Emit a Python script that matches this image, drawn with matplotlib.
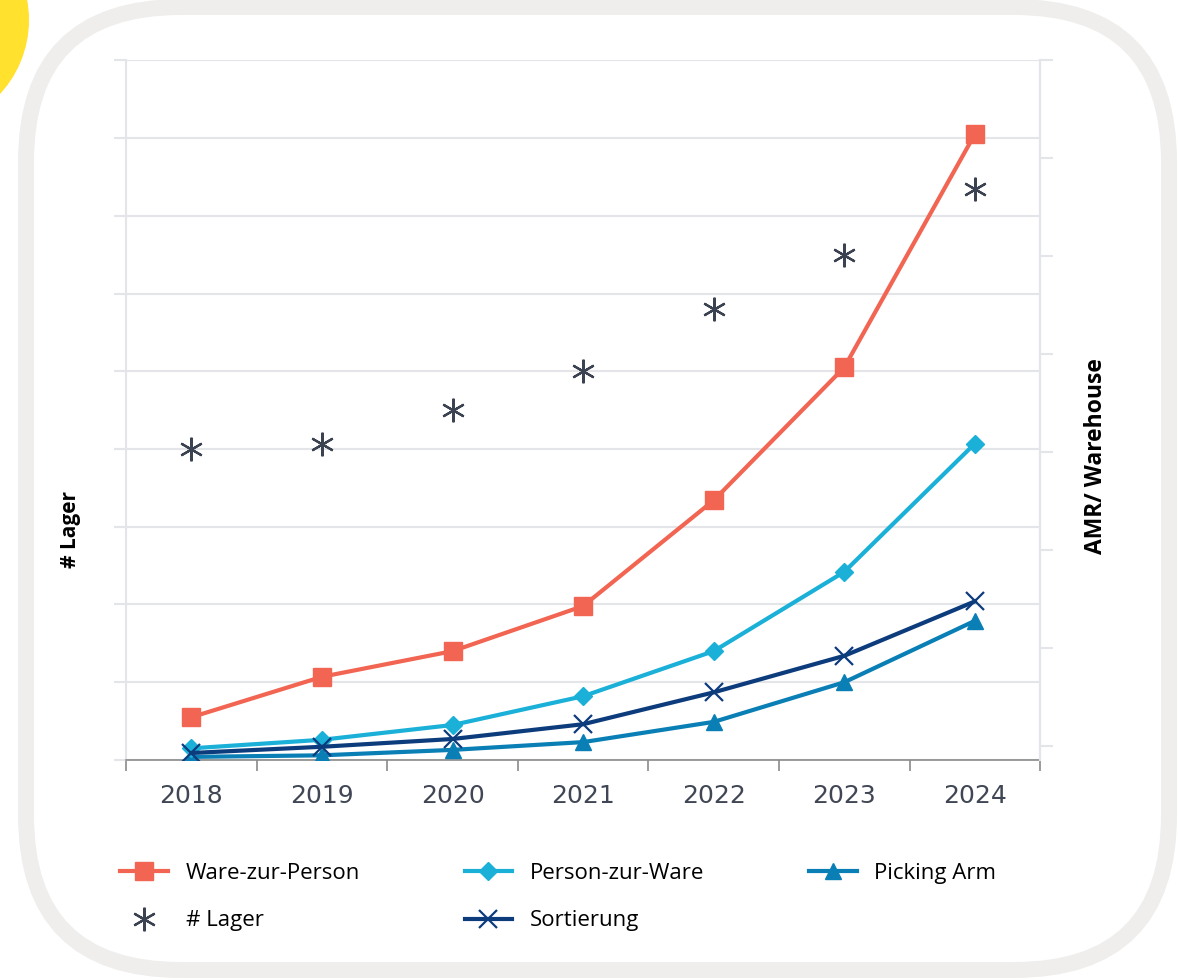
import numpy as np
import matplotlib
matplotlib.use("Agg")
from matplotlib import pyplot as plt
from matplotlib.patches import Circle, FancyBboxPatch

years = ["2018", "2019", "2020", "2021", "2022", "2023", "2024"]

ware_zur_person = [0.55, 1.07, 1.40, 1.98, 3.34, 5.05, 8.05]
person_zur_ware = [0.15, 0.26, 0.45, 0.82, 1.40, 2.42, 4.07]
sortierung = [0.09, 0.17, 0.27, 0.46, 0.87, 1.34, 2.04]
picking_arm = [0.04, 0.06, 0.13, 0.23, 0.49, 1.00, 1.79]
lager = [4.0, 4.07, 4.5, 5.0, 5.8, 6.5, 7.35]

fig = plt.figure(figsize=(11.78, 9.8), dpi=100)
fig.patch.set_facecolor("white")

# decoration: yellow blob top-left and the rounded grey frame
fig.patches.append(Circle((-0.8, 9.6), 1.09, transform=fig.dpi_scale_trans,
                          facecolor="#ffe12e", edgecolor="none", zorder=0))
fig.patches.append(FancyBboxPatch((0.26, 0.10), 11.43, 9.63,
                                  boxstyle="round,pad=0,rounding_size=1.55",
                                  transform=fig.dpi_scale_trans,
                                  facecolor="none", edgecolor="#efeeec",
                                  linewidth=11.5, zorder=0))

ax = fig.add_axes([0.107, 0.2245, 0.776, 0.714])
ax.set_facecolor("none")
x = np.arange(len(years))

grid_c = "#e3e5e8"
ax.set_xlim(-0.5, 6.5)
ax.set_ylim(0, 9)
ax.set_yticks(np.arange(0, 10))
ax.set_yticklabels([])
ax.yaxis.grid(True, color=grid_c, linewidth=1.5)
ax.set_axisbelow(True)
ax.tick_params(axis="y", length=9, color=grid_c, width=1.5)

ax.set_xticks(x)
ax.set_xticklabels(years, fontsize=18, color="#404654")
ax.set_xticks(np.arange(-0.5, 7.0, 1.0), minor=True)
ax.tick_params(axis="x", which="major", length=0, pad=17)
ax.tick_params(axis="x", which="minor", length=8, color="#8a8a8a", width=1.2)

ax.spines["top"].set_visible(False)
ax.spines["left"].set_color(grid_c)
ax.spines["left"].set_linewidth(1.5)
ax.spines["right"].set_color(grid_c)
ax.spines["right"].set_linewidth(1.5)
ax.spines["bottom"].set_color("#8a8a8a")
ax.spines["bottom"].set_linewidth(1.2)

ax2 = ax.twinx()
ax2.set_ylim(-0.14, 7)
ax2.set_yticks(np.arange(0, 8))
ax2.set_yticklabels([])
ax2.tick_params(axis="y", length=9, color=grid_c, width=1.5)
for s in ["top", "left", "bottom"]:
    ax2.spines[s].set_visible(False)
ax2.spines["right"].set_color(grid_c)
ax2.spines["right"].set_linewidth(1.5)

lw = 3.0
h_pick, = ax.plot(x, picking_arm, color="#0a7fb5", lw=lw, marker="^",
                  markersize=12, label="Picking Arm", zorder=3)
h_sort, = ax.plot(x, sortierung, color="#0d3c7d", lw=lw, marker="x",
                  markersize=13, markeredgewidth=1.6, label="Sortierung", zorder=4)
h_pers, = ax.plot(x, person_zur_ware, color="#1ab0d8", lw=lw, marker="D",
                  markersize=9, label="Person-zur-Ware", zorder=3)
h_ware, = ax.plot(x, ware_zur_person, color="#f26552", lw=lw, marker="s",
                  markersize=13, label="Ware-zur-Person", zorder=5)
h_lag, = ax.plot(x, lager, linestyle="none", color="#3b4252", marker=(6, 2, 0),
                 markersize=17, markeredgewidth=1.6, label="# Lager", zorder=6)

fig.text(0.06, 0.46, "# Lager", rotation=90, ha="center", va="center",
         fontsize=15, fontweight="bold", family=["Open Sans", "DejaVu Sans"])
fig.text(0.93, 0.535, "AMR/ Warehouse", rotation=90, ha="center", va="center",
         fontsize=16.5, fontweight="bold", family=["Open Sans", "DejaVu Sans"])

fig.legend(handles=[h_ware, h_lag, h_pers, h_sort, h_pick],
           loc="upper left", bbox_to_anchor=(0.085, 0.14), ncol=3,
           frameon=False, handlelength=2.15, handletextpad=0.8,
           columnspacing=4.7, labelspacing=1.2,
           prop={"family": ["Open Sans", "DejaVu Sans"], "size": 16})

fig.savefig("out.png", dpi=100)
